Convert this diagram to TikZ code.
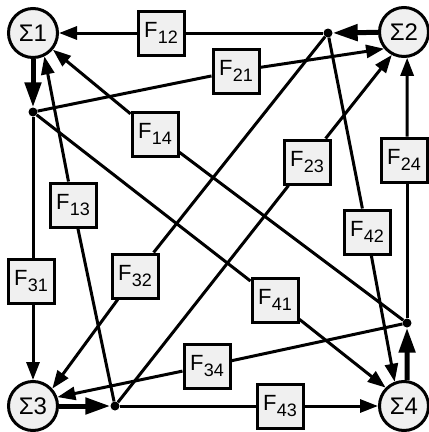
\documentclass[tikz,border=0pt]{standalone}
\usepackage{fontspec}
\setmainfont{Liberation Sans}
\usetikzlibrary{arrows.meta}
\definecolor{boxfill}{gray}{0.94}
\newcommand{\Fsub}[1]{F\kern0.5pt\raisebox{-6pt}{\fontsize{18}{18}\selectfont #1}}
\begin{document}
\begin{tikzpicture}[x=1pt,y=-1pt,
  sum/.style={circle,draw,line width=3pt,fill=boxfill,minimum size=49pt,inner sep=0pt,font=\fontsize{24}{24}\selectfont},
  fbox/.style={rectangle,draw,line width=3pt,fill=boxfill,minimum width=46pt,minimum height=44pt,inner sep=0pt,font=\fontsize{22}{22}\selectfont},
  junc/.style={circle,fill=black,minimum size=9pt,inner sep=0pt},
  conn/.style={line width=3pt},
  arr/.style={line width=3pt,-{Triangle[length=18pt,width=13pt]}},
  outarr/.style={line width=5pt,-{Triangle[length=25pt,width=16pt]}}]
\useasboundingbox (0,0) rectangle (429,432);
% summing nodes
\node[sum] (S1) at (33,33) {Σ1};
\node[sum] (S2) at (404,32) {Σ2};
\node[sum] (S3) at (33,406) {Σ3};
\node[sum] (S4) at (404,406) {Σ4};
% junctions
\node[junc] (J1) at (33,112) {};
\node[junc] (J2) at (328,33) {};
\node[junc] (J3) at (115,406) {};
\node[junc] (J4) at (407,323) {};
% transfer boxes
\node[fbox] (F12) at (161,33) {\Fsub{12}};
\node[fbox] (F21) at (236,71) {\Fsub{21}};
\node[fbox] (F14) at (155,134) {\Fsub{14}};
\node[fbox] (F13) at (73,205) {\Fsub{13}};
\node[fbox] (F23) at (307,162) {\Fsub{23}};
\node[fbox] (F24) at (404,160) {\Fsub{24}};
\node[fbox] (F31) at (31,281) {\Fsub{31}};
\node[fbox] (F32) at (135,276) {\Fsub{32}};
\node[fbox] (F42) at (367,232) {\Fsub{42}};
\node[fbox] (F41) at (275,300) {\Fsub{41}};
\node[fbox] (F34) at (207,366) {\Fsub{34}};
\node[fbox] (F43) at (280,406) {\Fsub{43}};
% outputs
\draw[outarr] (S1) -- (J1);
\draw[outarr] (S2) -- (J2);
\draw[outarr] (S3) -- (J3);
\draw[outarr] (S4.83) -- (J4);
% from J1
\draw[conn] (J1) -- (J1 |- F31.north);
\draw[arr] (F31.south -| J1) -- (S3.north);
\draw[conn] (J1) -- (F21);
\draw[arr] (F21) -- (S2.220);
\draw[conn] (J1) -- (F41);
\draw[arr] (F41) -- (S4.135);
% from J2
\draw[conn] (J2) -- (F12);
\draw[arr] (F12) -- (S1.east);
\draw[conn] (J2) -- (F32);
\draw[arr] (F32) -- (S3.42);
\draw[conn] (J2) -- (F42);
\draw[arr] (F42) -- (S4.111);
% from J3
\draw[conn] (J3) -- (F13);
\draw[arr] (F13) -- (S1.-64);
\draw[conn] (J3) -- (F23);
\draw[arr] (F23) -- (S2.242);
\draw[conn] (J3) -- (F43);
\draw[arr] (F43) -- (S4.west);
% from J4
\draw[conn] (J4) -- (J4 |- F24.south);
\draw[arr] (F24.north -| J4) -- (S2.-83);
\draw[conn] (J4) -- (F34);
\draw[arr] (F34) -- (S3.20);
\draw[conn] (J4) -- (F14);
\draw[arr] (F14) -- (S1.-40);
\end{tikzpicture}
\end{document}
